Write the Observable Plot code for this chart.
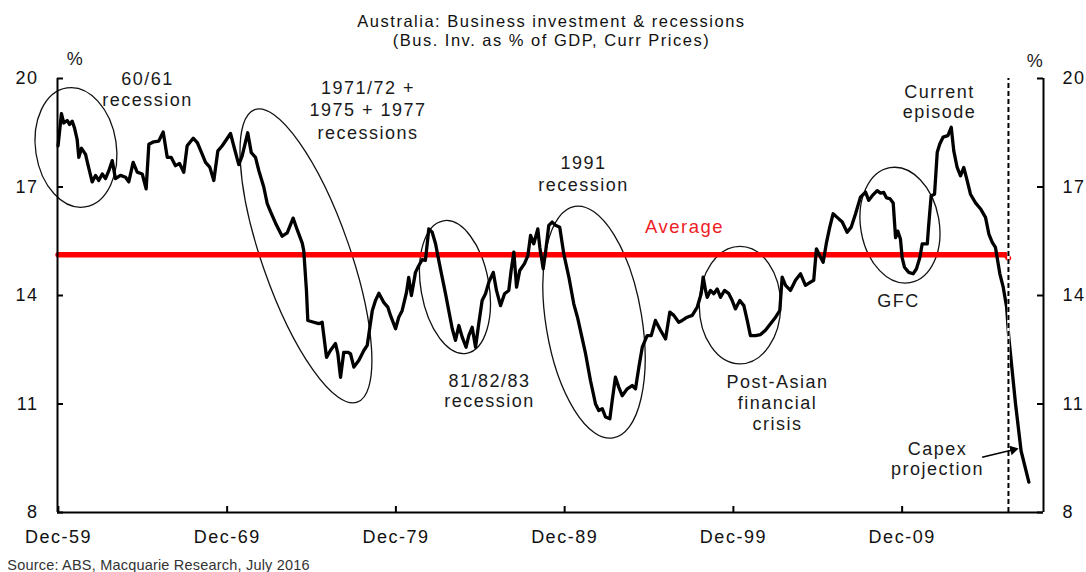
<!DOCTYPE html>
<html>
<head>
<meta charset="utf-8">
<script src="https://cdn.jsdelivr.net/npm/d3@7"></script>
<script src="https://cdn.jsdelivr.net/npm/@observablehq/plot@0.6"></script>
<style>
html, body { margin: 0; padding: 0; background: #fff; }
#chart { width: 1086px; height: 572px; overflow: hidden; }
</style>
</head>
<body>
<div id="chart"></div>
<script>
// ---- Data (decimal year, % of GDP) ----
const years = [
1959.90,1960.10,1960.24,1960.44,1960.58,1960.74,1960.87,1961.03,1961.13,1961.29,1961.53,1961.66,1961.92,
1962.12,1962.31,1962.52,1962.71,1962.91,1963.11,1963.30,1963.60,1963.90,1964.09,1964.35,1964.59,1964.89,
1965.12,1965.28,1965.57,1965.87,1966.13,1966.37,1966.60,1966.86,1967.10,1967.35,1967.55,1967.91,1968.15,
1968.44,1968.64,1968.89,1969.13,1969.37,1969.63,1970.12,1970.36,1970.61,1970.81,1971.14,1971.35,1971.60,
1971.80,1972.09,1972.29,1972.49,1972.79,1973.18,1973.48,1973.83,1974.07,1974.37,1974.46,1974.62,1974.70,
1975.05,1975.35,1975.55,1975.81,1976.04,1976.34,1976.48,1976.64,1976.83,1977.07,1977.23,1977.43,1977.72,
1978.02,1978.22,1978.52,1978.71,1978.91,1979.20,1979.44,1979.60,1979.90,1980.09,1980.29,1980.55,1980.68,
1980.84,1981.08,1981.28,1981.48,1981.67,1981.87,1982.07,1982.27,1982.46,1982.66,1982.86,1983.05,1983.26,
1983.45,1983.65,1983.85,1984.08,1984.24,1984.44,1984.64,1984.83,1985.03,1985.23,1985.43,1985.69,1985.88,
1986.12,1986.36,1986.61,1986.75,1986.91,1987.07,1987.26,1987.54,1987.74,1987.90,1988.09,1988.33,1988.45,
1988.65,1988.79,1988.98,1989.18,1989.38,1989.63,1989.87,1990.17,1990.46,1990.68,1990.92,1991.16,1991.45,
1991.75,1991.94,1992.15,1992.34,1992.60,1992.74,1992.93,1993.13,1993.33,1993.63,1993.92,1994.12,1994.32,
1994.52,1994.81,1995.05,1995.30,1995.60,1995.90,1996.15,1996.39,1996.68,1996.89,1997.18,1997.48,1997.78,
1998.01,1998.13,1998.27,1998.37,1998.56,1998.76,1998.96,1999.16,1999.39,1999.65,1999.85,2000.04,2000.30,
2000.54,2000.74,2000.93,2001.23,2001.53,2001.82,2002.12,2002.42,2002.67,2002.81,2003.01,2003.30,2003.60,
2003.90,2004.19,2004.49,2004.68,2004.84,2005.04,2005.24,2005.44,2005.63,2005.83,2006.07,2006.37,2006.66,
2006.90,2007.16,2007.45,2007.75,2007.94,2008.15,2008.44,2008.64,2008.83,2008.99,2009.19,2009.39,2009.53,
2009.66,2009.82,2009.92,2010.06,2010.31,2010.57,2010.77,2010.97,2011.11,2011.41,2011.50,2011.64,2011.84,
2012.00,2012.15,2012.35,2012.63,2012.83,2012.98,2013.18,2013.38,2013.57,2013.73,2013.97,2014.27,2014.56,
2014.86,2015.06,2015.26,2015.45,2015.71,2015.91,2016.11,2016.24,2016.64,2016.97,2017.43
];
const values = [
18.14,19.03,18.77,18.84,18.73,18.82,18.64,18.32,17.82,18.07,17.90,17.64,17.14,
17.32,17.18,17.36,17.23,17.45,17.73,17.23,17.32,17.27,17.14,17.68,17.41,17.36,
16.95,18.18,18.25,18.27,18.52,17.82,17.82,17.59,17.65,17.41,18.14,18.35,18.23,
17.91,17.68,17.55,17.18,18.00,18.14,18.48,18.05,17.62,17.86,18.50,17.95,17.82,
17.45,17.00,16.55,16.32,16.00,15.64,15.73,16.14,15.82,15.45,15.24,14.14,13.31,
13.26,13.22,13.26,12.29,12.48,12.67,12.39,11.74,12.43,12.43,12.39,12.02,12.20,
12.48,12.62,13.58,13.86,14.06,13.81,13.68,13.45,13.08,13.40,13.58,14.09,14.50,
14.00,14.64,14.83,14.99,14.97,15.84,15.75,15.43,14.97,14.51,14.05,13.59,13.08,
12.76,13.17,12.85,12.57,12.89,13.12,12.57,13.22,13.86,14.05,14.37,14.64,14.14,
13.72,14.05,14.14,14.69,15.20,14.23,14.69,14.88,15.10,15.66,15.43,15.84,15.33,
14.74,15.20,15.94,16.03,15.94,15.89,15.15,14.51,13.77,13.40,12.90,12.39,11.65,
11.00,10.82,10.87,10.64,10.59,11.10,11.74,11.46,11.23,11.42,11.51,11.42,12.02,
12.57,12.89,12.89,13.31,13.04,12.80,13.54,13.45,13.26,13.31,13.40,13.45,13.68,
14.05,14.51,14.14,13.95,14.14,14.05,14.18,13.95,14.14,14.05,13.86,13.63,13.86,
13.72,13.31,12.89,12.89,12.92,13.04,13.22,13.40,13.58,14.51,14.28,14.14,14.42,
14.60,14.28,14.37,14.42,15.29,15.10,14.92,15.47,15.89,16.26,16.16,16.03,15.75,
15.89,16.26,16.72,16.86,16.63,16.76,16.90,16.83,16.85,16.70,16.68,16.56,15.60,
15.78,15.56,15.05,14.78,14.64,14.60,14.74,15.05,15.43,15.43,15.98,16.76,16.80,
17.96,18.19,18.38,18.42,18.65,18.00,17.54,17.31,17.54,17.26,16.80,16.56,16.40,
16.16,15.70,15.47,15.33,14.60,14.23,13.68,12.85,11.00,9.70,8.84
];
const avgYears = [1959.90, 2016.05, 2016.22];
const avgValues = [15.13, 15.13, 15.03];
const projectionStart = 2016.22;

const xTickYears = [1959.92, 1969.92, 1979.92, 1989.92, 1999.92, 2009.92];
const xTickLabels = ["Dec-59", "Dec-69", "Dec-79", "Dec-89", "Dec-99", "Dec-09"];
const yTicks = [8, 11, 14, 17, 20];

const titleLines = ["Australia: Business investment & recessions", "(Bus. Inv. as % of GDP, Curr Prices)"];
const titleY = [21.43, 20.905];
const sourceText = "Source: ABS, Macquarie Research, July 2016";

const annoTexts = ["60/61\nrecession", "1971/72 +\n1975 + 1977\nrecessions", "81/82/83\nrecession",
  "1991\nrecession", "Post-Asian\nfinancial\ncrisis", "GFC", "Current\nepisode", "Capex\nprojection"];
const annoX = [1965.20, 1978.27, 1985.47, 1991.04, 2002.53, 2009.70, 2012.13, 2012.01];
const annoY = [19.24, 18.34, 10.92, 16.90, 10.27, 13.67, 18.92, 9.05];
const annoLH = [1.15, 1.25, 1.1, 1.22, 1.18, 1, 1.11, 1.11];

// Ellipse annotations: centre in data units, radii in px, rotation in degrees
const ellipseX = [1960.99, 1974.62, 1983.45, 1991.69, 2000.34, 2009.82];
const ellipseY = [18.08, 15.08, 14.22, 13.25, 13.72, 15.93];
const ellipseRx = [40.4, 44, 34, 48, 40.7, 39.3];
const ellipseRy = [60.2, 155, 67.3, 117.4, 58.7, 58.4];
const ellipseRot = [-8.6, -19.3, -10, -9.4, 0, -9.9];

// ---- Build ----
const series = years.map((x, i) => ({x, y: values[i]}));
const avg = avgYears.map((x, i) => ({x, y: avgValues[i]}));
const annos = annoTexts.map((t, i) => ({text: t, x: annoX[i], y: annoY[i], lh: annoLH[i]}));
const titles = titleLines.map((t, i) => ({text: t, y: titleY[i]}));
const xDomain = [1959.867, 2018.297];
const yDomain = [8, 20];

function ellipseMark(index, scales) {
  const ns = "http://www.w3.org/2000/svg";
  const sx = (scales && typeof scales.x === "function") ? scales.x : d3.scaleLinear(xDomain, [57, 1043]);
  const sy = (scales && typeof scales.y === "function") ? scales.y : d3.scaleLinear(yDomain, [512, 78]);
  const g = document.createElementNS(ns, "g");
  g.setAttribute("fill", "none");
  g.setAttribute("stroke", "#111");
  g.setAttribute("stroke-width", "1.3");
  ellipseX.forEach((cx, i) => {
    const e = document.createElementNS(ns, "ellipse");
    e.setAttribute("transform", `translate(${sx(cx)},${sy(ellipseY[i])}) rotate(${ellipseRot[i]})`);
    e.setAttribute("rx", ellipseRx[i]);
    e.setAttribute("ry", ellipseRy[i]);
    g.appendChild(e);
  });
  return g;
}

const textColor = "#1a1a1a";
const plot = Plot.plot({
  width: 1086,
  height: 572,
  marginLeft: 57,
  marginRight: 43,
  marginTop: 78,
  marginBottom: 60,
  x: {domain: xDomain, label: null},
  y: {domain: yDomain, label: null},
  style: "font-family: 'Liberation Sans', Arial, sans-serif; font-size: 18px; letter-spacing: 1.5px; color: #111; background: #fff; overflow: visible;",
  marks: [
    ellipseMark,
    Plot.line(avg, {x: "x", y: "y", stroke: "#ff0000", strokeWidth: 5.5}),
    Plot.line(series, {x: "x", y: "y", stroke: "#000", strokeWidth: 3.3, strokeLinejoin: "round"}),
    Plot.ruleX([projectionStart], {y1: 8, y2: 20, stroke: "#fff", strokeWidth: 2.5}),
    Plot.ruleX([projectionStart], {y1: 8, y2: 20, stroke: "#000", strokeWidth: 2, strokeDasharray: "5,3"}),
    // axis lines
    Plot.ruleY([yDomain[0]], {stroke: "#000", strokeWidth: 2}),
    Plot.ruleX([xDomain[0]], {stroke: "#000", strokeWidth: 2}),
    Plot.ruleX([xDomain[1]], {stroke: "#000", strokeWidth: 2}),
    // inward ticks
    Plot.tickY(yTicks, {y: d => d, insetRight: 980, stroke: "#000", strokeWidth: 2}),
    Plot.tickY(yTicks, {y: d => d, insetLeft: 980, stroke: "#000", strokeWidth: 2}),
    Plot.tickX(xTickYears, {x: d => d, insetTop: 428, stroke: "#000", strokeWidth: 2}),
    // tick labels
    Plot.axisY({ticks: yTicks, anchor: "left", tickSize: 0, tickPadding: 19, fontSize: 18, tickFormat: d => String(d)}),
    Plot.axisY({ticks: yTicks, anchor: "right", tickSize: 0, tickPadding: 19, fontSize: 18, tickFormat: d => String(d)}),
    Plot.axisX({ticks: xTickYears, anchor: "bottom", tickSize: 0, tickPadding: 18, fontSize: 18,
      tickFormat: d => xTickLabels[xTickYears.indexOf(d)]}),
    // % unit labels
    Plot.text(["%"], {x: 1960.93, y: 20.36, text: d => d, lineAnchor: "bottom", fontSize: 18, fill: textColor}),
    Plot.text(["%"], {x: 2017.83, y: 20.33, text: d => d, lineAnchor: "bottom", fontSize: 18, fill: textColor}),
    // annotations
    ...annos.map(a => Plot.text([a], {x: "x", y: "y", text: "text", lineAnchor: "bottom",
      lineHeight: a.lh, fontSize: 18, fill: textColor})),
    Plot.text(["Average"], {x: 1997.02, y: 15.741, text: d => d, lineAnchor: "bottom", fontSize: 18.5, fill: "#ee1c25"}),
    // capex arrow
    Plot.link([{x1: 2014.66, y1: 9.53, x2: 2016.50, y2: 9.733}], {x1: "x1", y1: "y1", x2: "x2", y2: "y2", stroke: "#000", strokeWidth: 1.6}),
    Plot.dot([{x: 2016.50, y: 9.733}], {x: "x", y: "y", symbol: "triangle", r: 3.6, rotate: 76.5, fill: "#000", stroke: "none"}),
    // title and source
    Plot.text(titles, {x: 1989.14, y: "y", text: "text", lineAnchor: "bottom", fontSize: 16.5, fill: "#111"}),
    Plot.text([sourceText], {x: 1956.89, y: 6.42, text: d => d, textAnchor: "start", lineAnchor: "bottom", fontSize: 14.5, fill: "#333"})
  ]
});

// per-text letter spacing tweaks
plot.querySelectorAll("text").forEach(t => {
  const s = t.textContent || "";
  if (s.startsWith("Source")) t.style.letterSpacing = "0.2px";
  if (s.startsWith("Australia") || s.startsWith("(Bus")) t.style.letterSpacing = "1.5px";
});

document.getElementById("chart").appendChild(plot);
</script>
</body>
</html>
